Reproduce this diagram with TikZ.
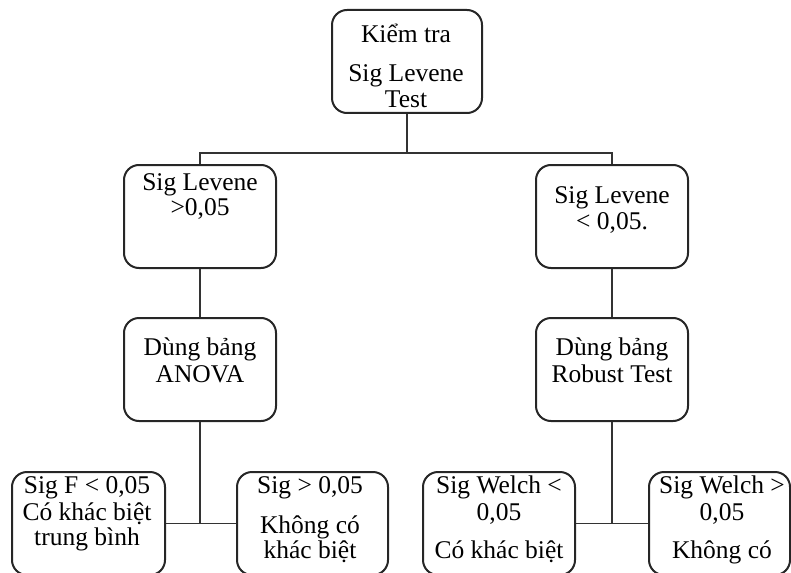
\documentclass[tikz,border=0pt]{standalone}
\usepackage{fontspec}
\setmainfont{Liberation Serif}
\begin{document}
\begin{tikzpicture}[x=1pt,y=-1pt,
  box/.style={draw=black!85, line width=2pt, rounded corners=15pt, inner sep=0pt,
              minimum height=103pt},
  wire/.style={draw=black!80, line width=1.5pt},
  txt/.style={anchor=base, inner sep=0pt, font=\fontsize{25.5}{26}\selectfont, text=black}]
\useasboundingbox (0,0) rectangle (791,572);
\begin{scope}
\clip (0,0) rectangle (791,572);
% boxes
\node[box, minimum width=150pt] (top) at (407,61.5) {};
\node[box, minimum width=152pt] (L1) at (200,216.5) {};
\node[box, minimum width=152pt] (R1) at (612,216.5) {};
\node[box, minimum width=152pt] (L2) at (200,369.5) {};
\node[box, minimum width=152pt] (R2) at (612,369.5) {};
\node[box, minimum width=153pt] (B1) at (88.5,523.5) {};
\node[box, minimum width=151pt] (B2) at (312.5,523.5) {};
\node[box, minimum width=152pt] (B3) at (499,523.5) {};
\node[box, minimum width=141pt] (B4) at (719.5,523.5) {};

% text lines
\node[txt] (t1) at (406,43) {Kiểm tra};
\node[txt] (t2) at (406,82) {Sig Levene};
\node[txt] (t3) at (406,108) {Test};
\node[txt] (l1a) at (200,190) {Sig Levene};
\node[txt] (l1b) at (200,215) {>0,05};
\node[txt] (r1a) at (612,203) {Sig Levene};
\node[txt] (r1b) at (612,229) {< 0,05.};
\node[txt] (l2a) at (200,355) {Dùng bảng};
\node[txt] (l2b) at (200,382) {ANOVA};
\node[txt] (r2a) at (612,355) {Dùng bảng};
\node[txt] (r2b) at (612,382) {Robust Test};
\node[txt] (b1a) at (87,493) {Sig F < 0,05};
\node[txt] (b1b) at (87,520) {Có khác biệt};
\node[txt] (b1c) at (87,545) {trung bình};
\node[txt] (b2a) at (310,493) {Sig > 0,05};
\node[txt] (b2b) at (310,533) {Không có};
\node[txt] (b2c) at (310,558) {khác biệt};
\node[txt] (b3a) at (499,493) {Sig Welch <};
\node[txt] (b3b) at (499,520) {0,05};
\node[txt] (b3c) at (499,558) {Có khác biệt};
\node[txt] (b4a) at (722,493) {Sig Welch >};
\node[txt] (b4b) at (722,520) {0,05};
\node[txt] (b4c) at (722,558) {Không có};

% connectors
\coordinate (bus) at (407,153);
\draw[wire] (top.south) -- (bus);
\draw[wire] (L1.north) |- (bus) -| (R1.north);
\draw[wire] (L1.south) -- (L2.north);
\draw[wire] (R1.south) -- (R2.north);
\draw[wire] (B1.east) -- (B2.west);
\draw[wire] (B3.east) -- (B4.west);
\draw[wire] (L2.south) -- (L2.south |- B1.east);
\draw[wire] (R2.south) -- (R2.south |- B3.east);
\end{scope}
\end{tikzpicture}
\end{document}
